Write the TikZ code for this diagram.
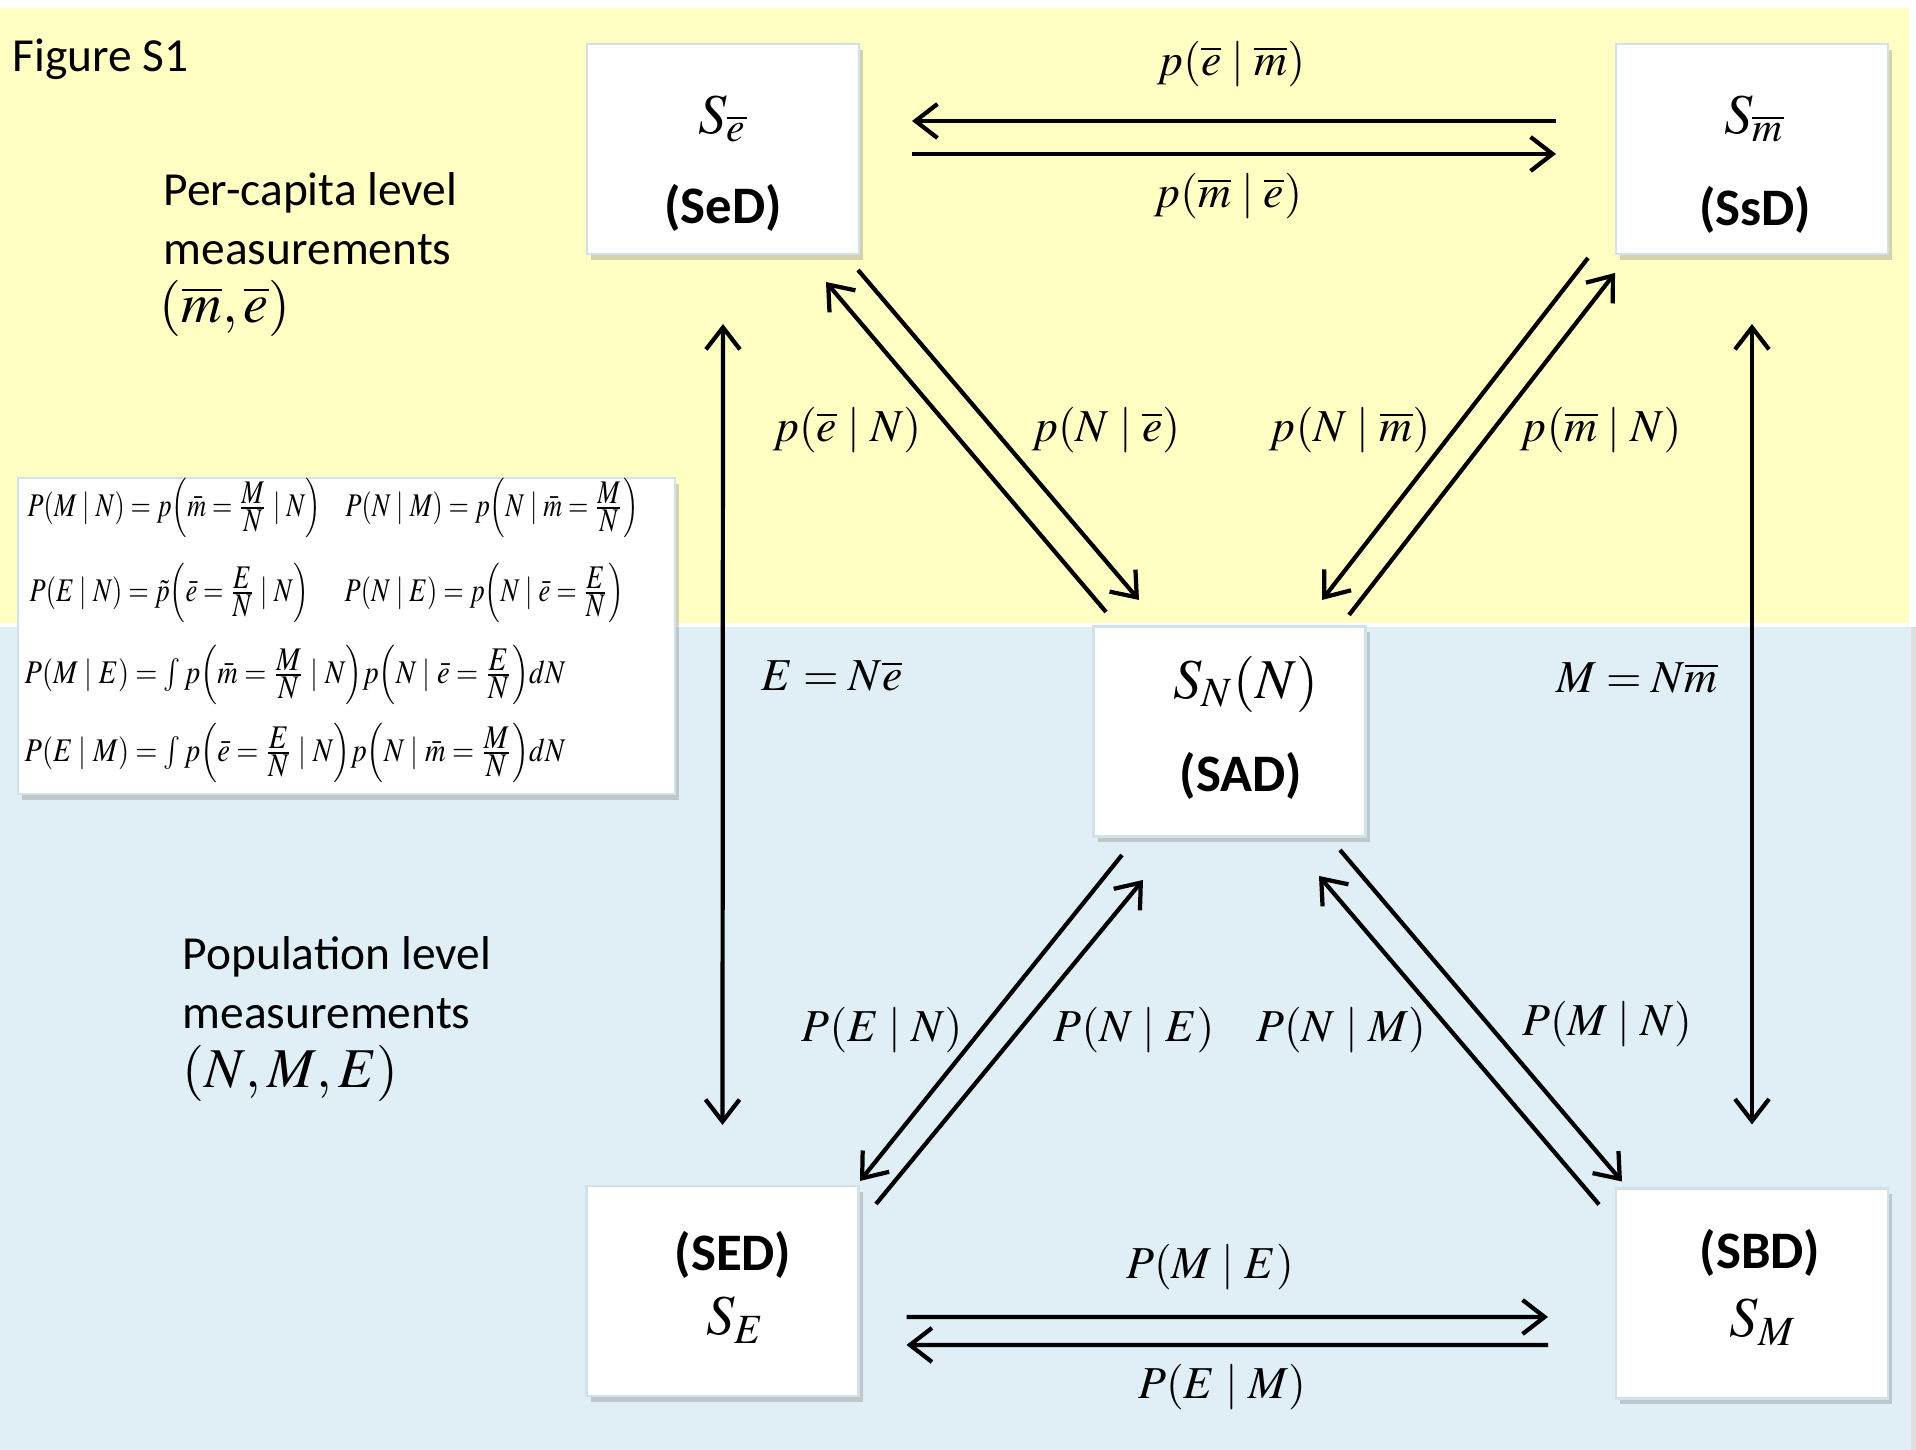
\documentclass[tikz,border=0pt]{standalone}
\usepackage{amsmath}
\usepackage{mathptmx}
\usepackage[no-math]{fontspec}
\setmainfont{Carlito}
\usetikzlibrary{arrows.meta,shadows}
\definecolor{percap}{RGB}{255,255,196}
\definecolor{popul}{RGB}{224,239,245}
\definecolor{boxedge}{RGB}{210,226,234}
\newcommand{\cnd}{\mid}
\newcommand{\fr}[2]{\frac{\textstyle #1}{\textstyle #2}}
\newcommand{\sqz}[2][0.8]{\scalebox{#1}[0.94]{$#2$}}
\tikzset{
  distbox/.style={fill=white,draw=boxedge,line width=0.6pt,outer sep=0pt,inner sep=0pt,
    minimum width=2.72cm,minimum height=2.1cm,
    drop shadow={shadow xshift=0.4mm,shadow yshift=-0.6mm,opacity=0.35}},
  flow/.style={line width=1.2pt,-{Straight Barb[length=2.2mm,width=3.4mm]}},
  twoway/.style={line width=1.2pt,{Straight Barb[length=2.2mm,width=3.4mm]}-{Straight Barb[length=2.2mm,width=3.4mm]}},
  lbl/.style={font=\fontsize{13}{15}\selectfont,inner sep=1pt},
  boxmath/.style={font=\fontsize{16}{19}\selectfont},
  boxname/.style={font=\fontsize{15}{18}\selectfont\bfseries},
  side/.style={font=\fontsize{13.5}{16.8}\selectfont,align=left,anchor=west,inner sep=0pt},
  eqn/.style={anchor=west,inner sep=0pt,font=\fontsize{10}{12}\selectfont}
}
\begin{document}
\begin{tikzpicture}[x=1cm,y=1cm]
\useasboundingbox (0,0) rectangle (19.16,14.5);
\fill[percap] (0,8.27) rectangle (19.09,14.42);
\fill[popul,drop shadow={shadow xshift=0.6mm,shadow yshift=0mm,opacity=0.25}] (0,0) rectangle (19.11,8.23);
\node[side] (fig) at (0.12,13.91) {Figure S1};
\node[side] (percaptxt) at (1.63,12.315) {Per-capita level\\measurements};
\node[side,font=\fontsize{16}{19}\selectfont] (percapvar) at (1.59,11.42) {$(\overline{m},\overline{e})$};
\node[side] (poptxt) at (1.82,4.675) {Population level\\measurements};
\node[side,font=\fontsize{16}{19}\selectfont] (popvar) at (1.82,3.77) {$(N,M,E)$};
\node[distbox,minimum width=6.57cm,minimum height=3.16cm] (eqbox) at (3.465,8.14) {};
\node[eqn] (eq1) at (0.27,9.42) {\sqz[0.745]{P(M\cnd N)=p\Bigl(\bar m=\fr{M}{N}\cnd N\Bigr)}};
\node[eqn] (eq2) at (3.45,9.42) {\sqz[0.745]{P(N\cnd M)=p\Bigl(N\cnd\bar m=\fr{M}{N}\Bigr)}};
\node[eqn] (eq3) at (0.29,8.57) {\sqz[0.75]{P(E\cnd N)=\tilde p\Bigl(\bar e=\fr{E}{N}\cnd N\Bigr)}};
\node[eqn] (eq4) at (3.44,8.57) {\sqz[0.75]{P(N\cnd E)=p\Bigl(N\cnd\bar e=\fr{E}{N}\Bigr)}};
\node[eqn] (eq5) at (0.24,7.75) {\sqz[0.81]{P(M\cnd E)=\int p\Bigl(\bar m=\fr{M}{N}\cnd N\Bigr)p\Bigl(N\cnd\bar e=\fr{E}{N}\Bigr)dN}};
\node[eqn] (eq6) at (0.24,6.97) {\sqz[0.81]{P(E\cnd M)=\int p\Bigl(\bar e=\fr{E}{N}\cnd N\Bigr)p\Bigl(N\cnd\bar m=\fr{M}{N}\Bigr)dN}};
\node[distbox] (sebar) at (7.23,13.01) {};
\node[distbox] (smbar) at (17.52,13.01) {};
\node[distbox] (sn) at (12.295,7.185) {};
\node[distbox] (se) at (7.225,1.59) {};
\node[distbox] (sm) at (17.52,1.565) {};
\node[boxmath] (sebarsym) at (7.23,13.31) {$S_{\overline{e}}$};
\node[boxname] (sebarname) at (7.23,12.42) {(SeD)};
\node[boxmath] (smbarsym) at (17.54,13.31) {$S_{\overline{m}}$};
\node[boxname] (smbarname) at (17.55,12.40) {(SsD)};
\node[boxmath] (snsym) at (12.46,7.66) {$S_N(N)$};
\node[boxname] (snname) at (12.41,6.74) {(SAD)};
\node[boxname] (sename) at (7.33,1.95) {(SED)};
\node[boxmath] (sesym) at (7.36,1.30) {$S_E$};
\node[boxname] (smname) at (17.60,1.97) {(SBD)};
\node[boxmath] (smsym) at (17.63,1.28) {$S_M$};
\draw[flow] ([shift={(-0.60,0.28)}]smbar.west) -- ([shift={(0.53,0.28)}]sebar.east);
\draw[flow] ([shift={(0.53,-0.05)}]sebar.east) -- ([shift={(-0.60,-0.05)}]smbar.west);
\draw[flow] ([shift={(0.48,-0.26)}]se.east) -- ([shift={(-0.68,-0.235)}]sm.west);
\draw[flow] ([shift={(-0.68,-0.515)}]sm.west) -- ([shift={(0.48,-0.54)}]se.east);
\draw[twoway] ([yshift=-7mm]sebar.south) -- ([yshift=6.1mm]se.north);
\draw[twoway] ([yshift=-7mm]smbar.south) -- ([yshift=6.4mm]sm.north);
\draw[flow] ([shift={(-0.01,-0.16)}]sebar.south east) -- ([shift={(0.455,0.265)}]sn.north west);
\draw[flow] ([shift={(0.125,0.145)}]sn.north west) -- ([shift={(-0.33,-0.28)}]sebar.south east);
\draw[flow] ([shift={(-0.28,-0.04)}]smbar.south west) -- ([shift={(-0.435,0.265)}]sn.north east);
\draw[flow] ([shift={(-0.165,0.115)}]sn.north east) -- ([shift={(-0.01,-0.19)}]smbar.south west);
\draw[flow] ([shift={(0.285,-0.185)}]sn.south west) -- ([shift={(0.015,0.05)}]se.north east);
\draw[flow] ([shift={(0.175,-0.18)}]se.north east) -- ([shift={(0.495,-0.435)}]sn.south west);
\draw[flow] ([shift={(-0.255,-0.135)}]sn.south east) -- ([shift={(0.06,0.07)}]sm.north west);
\draw[flow] ([shift={(-0.17,-0.16)}]sm.north west) -- ([shift={(-0.465,-0.395)}]sn.south east);
\node[lbl] (lemtop) at (12.31,13.86) {$p(\overline{e}\cnd\overline{m})$};
\node[lbl] (lmetop) at (12.28,12.54) {$p(\overline{m}\cnd\overline{e})$};
\node[lbl] (leN) at (8.47,10.20) {$p(\overline{e}\cnd N)$};
\node[lbl] (lNe) at (11.06,10.20) {$p(N\cnd\overline{e})$};
\node[lbl] (lNm) at (13.50,10.20) {$p(N\cnd\overline{m})$};
\node[lbl] (lmN) at (16.01,10.20) {$p(\overline{m}\cnd N)$};
\node[lbl] (leq1) at (8.32,7.74) {$E=N\overline{e}$};
\node[lbl] (leq2) at (16.37,7.72) {$M=N\overline{m}$};
\node[lbl] (lEN) at (8.82,4.20) {$P(E\cnd N)$};
\node[lbl] (lNE) at (11.34,4.20) {$P(N\cnd E)$};
\node[lbl] (lNM) at (13.41,4.20) {$P(N\cnd M)$};
\node[lbl] (lMN) at (16.07,4.26) {$P(M\cnd N)$};
\node[lbl] (lME) at (12.10,1.83) {$P(M\cnd E)$};
\node[lbl] (lEM) at (12.22,0.63) {$P(E\cnd M)$};
\end{tikzpicture}
\end{document}
